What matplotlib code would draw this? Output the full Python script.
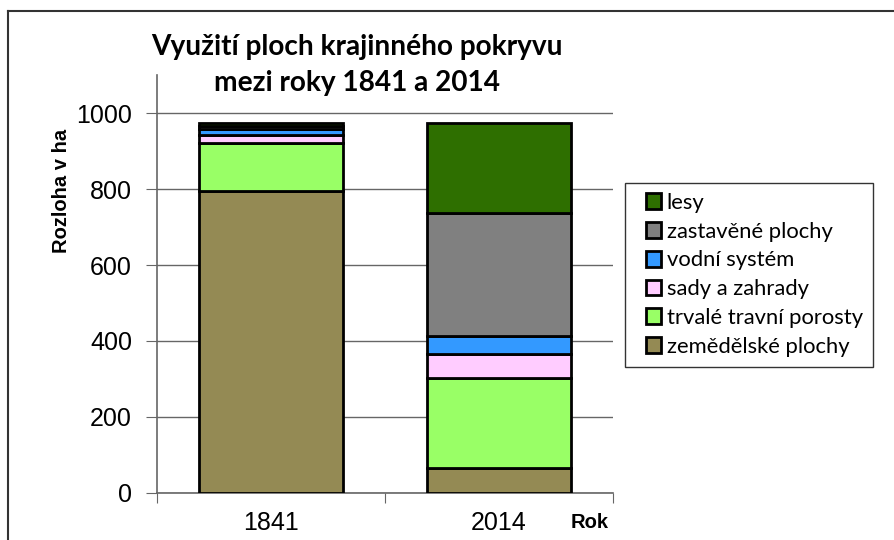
#!/usr/bin/env python3

"""Land cover stacked bars, 1841 vs 2014."""

import matplotlib

matplotlib.use("Agg")
import matplotlib.pyplot as plt
from matplotlib.legend_handler import HandlerPatch
from matplotlib.lines import Line2D
from matplotlib.patches import Rectangle

years = ["1841", "2014"]
categories = [
    "zemědělské plochy",
    "trvalé travní porosty",
    "sady a zahrady",
    "vodní systém",
    "zastavěné plochy",
    "lesy",
]
# hectares per category, same order as categories
values_1841 = [795, 127, 20, 16, 8, 7]
values_2014 = [65, 238, 62, 48, 325, 235]
colors = ["#948A54", "#99FF66", "#FFCCFF", "#3399FF", "#808080", "#2E6F00"]
y_ticks = [0, 200, 400, 600, 800, 1000]


def square_handle(legend, orig_handle, xdescent, ydescent, width, height, fontsize):
    # square key pushed to the right end of the handle box
    side = height
    return Rectangle((-xdescent + width - side, -ydescent), side, side)


W, H = 895, 540
fig = plt.figure(figsize=(W / 100, H / 100), dpi=100)
ax = fig.add_axes([157 / W, 1 - 493 / H, (613 - 157) / W, (493 - 75) / H])

x = [0, 1]
bottoms = [0, 0]
handles = []
for i, name in enumerate(categories):
    vals = [values_1841[i], values_2014[i]]
    bars = ax.bar(x, vals, width=0.63, bottom=bottoms, color=colors[i],
                  edgecolor="black", linewidth=2, label=name, zorder=3)
    handles.append(bars.patches[0])
    bottoms = [b + v for b, v in zip(bottoms, vals)]

ax.set_xlim(-0.5, 1.5)
ax.set_ylim(0, 1100)
ax.set_yticks(y_ticks)
ax.set_yticklabels([str(t) for t in y_ticks], fontfamily="Liberation Sans", fontsize=18)
ax.yaxis.grid(True, color="#666666", linewidth=1, zorder=0)

# category boundaries get tick marks, labels sit between them
ax.set_xticks([-0.5, 0.5, 1.5])
ax.set_xticklabels([])
ax.set_xticks(x, minor=True)
ax.set_xticklabels(years, minor=True, fontfamily="Liberation Sans", fontsize=18)
ax.tick_params(axis="x", which="major", direction="out", length=7, color="#666666")
ax.tick_params(axis="x", which="minor", length=0, pad=13)
ax.tick_params(axis="y", direction="out", length=8, pad=10, color="#666666")

for side in ["top", "right"]:
    ax.spines[side].set_visible(False)
for side in ["left", "bottom"]:
    ax.spines[side].set_color("#666666")
    ax.spines[side].set_linewidth(1.2)

leg = fig.legend(handles[::-1], categories[::-1], loc="upper left",
                 bbox_to_anchor=(625 / W, 1 - 183 / H), frameon=True, fancybox=False,
                 prop={"family": "Lato", "size": 15.8}, handlelength=1.2,
                 handleheight=0.72, handletextpad=0.25, labelspacing=0.4,
                 borderpad=0.45, borderaxespad=0,
                 handler_map={Rectangle: HandlerPatch(patch_func=square_handle)})
leg.get_frame().set_edgecolor("black")
leg.get_frame().set_linewidth(1)

fig.text(357 / W, 1 - 65 / H, "Využití ploch krajinného pokryvu\nmezi roky 1841 a 2014",
         ha="center", va="center", fontfamily="Lato", fontweight="bold",
         fontsize=20.2, linespacing=1.5)
fig.text(62 / W, 1 - 191 / H, "Rozloha v ha", rotation=90, ha="center", va="center",
         fontfamily="Liberation Sans", fontweight="bold", fontsize=14.5)
fig.text(590 / W, 1 - 522 / H, "Rok", ha="center", va="center",
         fontfamily="Liberation Sans", fontweight="bold", fontsize=14.5)

# outer chart frame (top and left edges visible)
fig.add_artist(Line2D([8 / W, 1], [1 - 11 / H, 1 - 11 / H], color="#333333", linewidth=1.5))
fig.add_artist(Line2D([8 / W, 8 / W], [0, 1 - 11 / H], color="#333333", linewidth=1.5))

fig.savefig("out.png", dpi=100)
